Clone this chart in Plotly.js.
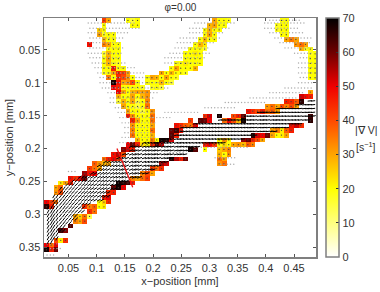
<!DOCTYPE html>
<html><head><meta charset="utf-8">
<script src="https://cdn.plot.ly/plotly-3.0.1.min.js"></script>
<style>html,body{margin:0;padding:0;background:#fff}</style></head>
<body><div id="chart" style="width:380px;height:292px"></div>
<script>
// |grad V| cells, as runs: [row, first column, values in s^-1 ...]
const heatRuns = [
[0,12,42,30],[0,17,20,16,20],[0,35,30,20,20,18],[0,49,20,20],
[1,12,20],[1,18,20,20],[1,34,28,30,20,20],[1,48,18,20,20],
[2,11,25,20],[2,33,20,28,20,20],[2,48,18,20,20],
[3,11,30,18,20,20],[3,33,20,30,20],[3,49,20,20],
[4,12,28,20,20],[4,32,20,28,20,20],[4,50,30,35,30],
[5,9,48],[5,12,34,30,20,20],[5,31,20,28,22],[5,52,32,36,30],
[6,13,20,20,20],[6,30,20,20,20,16],[6,53,28,18],[6,55,20],
[7,12,16,28,20,20],[7,29,20,20,22,20],[7,55,18,20],
[8,12,20,30,20,20],[8,29,20,20,20,20],[8,55,20,20],
[9,12,20,28,20,18],[9,27,20,20,22,20,20,20],[9,55,20,20],
[10,12,20,20,46,20,20],[10,26,20,30,20,20,20,28],[10,55,20,20],
[11,12,18,20,30,45,42,30],[11,24,30,20,28,20,20,18],[11,55,20,20],
[12,13,35,20,44,40,32,20],[12,21,20,30,28,20,30,20,18],[12,55,20,20],
[13,14,68,48,30,32,40,20],[13,21,20,20,20,28,20,16],
[14,14,50,45,20,20,20,20,18],[14,22,18,20,16],
[15,15,50,30,20,28,30,30,32],[15,55,30],
[16,15,28,20,20,30,20,28,32],[16,53,52,48,46],
[17,15,16,28,20,30,16,20,34],[17,50,46,44,38,66],
[18,16,30,20,20,16,20,36],[18,46,32,36,30,40,34,40,30],
[19,17,30,20,20,16,20,32],[19,42,48,44,40,46,36,38,30],
[20,17,47,32,20,20,20,36],[20,33,44,52],[20,36,68],[20,39,40,46,60],[20,55,64],
[21,18,46,30,20,20,36],[21,30,42],[21,32,62,60,50],[21,37,36,50,40,28,68],[21,55,66],
[22,18,32,20,20,20,30],[22,27,48,44,38,36,50],[22,51,48,52,44],
[23,18,34,20,20,20,36],[23,26,60,64,48],[23,47,30,34,22,38,46],
[24,18,36,20,20,20,28],[24,26,62,46],[24,43,66,52,50,60,30,20,22,30],
[25,19,28,20,20,34,20],[25,24,68,66,52],[25,36,20,32,20],[25,41,56,60,46,40,30],
[26,17,50,60,46,24,20,44,62,54],[26,33,46,50,42,20,24,20],[26,39,30,32,28,38,34],
[27,16,58,52,46],[27,30,68,62],[27,33,20],[27,36,26,30,34],
[28,14,48,54,40],[28,36,28,20,32],
[29,12,36,46,50,42],[29,26,66,54,46,60],[29,36,36,30],
[30,10,38,32,28,30],[30,24,56,52],[30,36,32,36],
[31,9,42,36,30],[31,22,42,36,44],
[32,8,56,48,50],[32,20,34,40,30],
[33,5,48,44,50,60],[33,18,34,30,36,42],
[34,3,22,30,46],[34,15,68,66,64,46],
[35,2,30,36],[35,14,60,68,50],
[36,2,32,40],[36,13,44,46],
[37,12,46,50],
[38,0,50,42,36],[38,11,20,26,44],
[39,0,66,46],[39,8,44,34,38,20,22],
[40,9,44,36],
[41,6,30,26,36,14],
[42,6,34,30,40],
[43,5,62],
[44,3,64,58],
[46,2,40,22,44],
[47,0,50,36,50],
[48,0,68,46,60]
];
// main channel: stations along x [mm], wall positions [mm], flow angle [deg]
const channelX = [0.014,0.024,0.036,0.047,0.058,0.070,0.081,0.092,0.104,0.115,0.127,0.138,0.148,0.161,0.171,0.184,0.195,0.205,0.218,0.228,0.241,0.251,0.262,0.274,0.285,0.297,0.308,0.319,0.331,0.342,0.354,0.365,0.375,0.388,0.398,0.411,0.421,0.432,0.444,0.455,0.468,0.478];
const channelTop = [0.285,0.271,0.259,0.253,0.248,0.242,0.238,0.232,0.224,0.220,0.215,0.209,0.203,0.197,0.194,0.191,0.189,0.186,0.185,0.182,0.176,0.168,0.164,0.162,0.161,0.161,0.159,0.156,0.156,0.153,0.153,0.150,0.148,0.145,0.142,0.141,0.138,0.136,0.135,0.133,0.129,0.124];
const channelBottom = [0.344,0.338,0.326,0.317,0.308,0.298,0.286,0.282,0.279,0.273,0.265,0.259,0.255,0.248,0.244,0.239,0.233,0.229,0.223,0.218,0.214,0.209,0.205,0.200,0.197,0.195,0.194,0.192,0.191,0.189,0.188,0.185,0.182,0.177,0.176,0.174,0.173,0.171,0.167,0.164,0.159,0.153];
const channelAngle = [62,58,52,46,42,38,35,32,30,28,26,25,24,22,20,18,17,16,15,14,13,12,11,10,10,9,9,8,8,8,8,8,7,7,7,7,7,6,6,6,6,6];
// slow-flow vectors around the branches: row y [mm], span start, span end [mm]
const slowY = [0.009,0.017,0.024,0.032,0.039,0.047,0.055,0.062,0.070,0.077,0.085,0.092,0.100,0.108,0.115,0.123,0.130,0.138,0.145,0.153,0.161,0.168,0.176,0.183,0.191,
 0.009,0.017,0.024,0.032,0.039,0.047,0.055,0.062,0.070,
 0.005,0.009,0.017,0.024,0.032,0.039,0.047,0.055,0.062,0.070,0.077,0.085,0.092,0.100,0.108,0.115,0.123,0.130,0.138,0.145,0.153,
 0.198,0.206,0.214,0.224,0.235,0.345,0.352,0.362];
const slowStart = [0.085,0.088,0.085,0.088,0.088,0.088,0.085,0.088,0.092,0.097,0.102,0.106,0.106,0.110,0.120,0.124,0.124,0.133,0.138,0.141,0.145,0.150,0.150,0.145,0.141,
 0.274,0.265,0.265,0.248,0.243,0.239,0.230,0.221,0.221,
 0.407,0.398,0.398,0.407,0.416,0.425,0.434,0.451,0.461,0.458,0.458,0.458,0.461,0.458,0.434,0.407,0.372,0.328,0.292,0.221,0.195,
 0.274,0.230,0.310,0.320,0.050,0.012,0.018,0.012];
const slowEnd = [0.168,0.177,0.159,0.150,0.141,0.150,0.144,0.141,0.150,0.168,0.186,0.195,0.239,0.230,0.212,0.204,0.195,0.195,0.204,0.199,0.204,0.199,0.199,0.204,0.168,
 0.345,0.336,0.328,0.319,0.310,0.301,0.301,0.292,0.283,
 0.461,0.469,0.461,0.469,0.482,0.482,0.482,0.482,0.482,0.482,0.482,0.482,0.482,0.482,0.482,0.469,0.455,0.398,0.345,0.283,0.230,
 0.372,0.256,0.345,0.345,0.062,0.030,0.036,0.026];
// section line drawn across the channel
const sectionX = [0.136,0.164];
const sectionY = [0.200,0.259];
const tickVals = [0.05,0.1,0.15,0.2,0.25,0.3,0.35,0.4,0.45];
const yTickVals = [0.05,0.1,0.15,0.2,0.25,0.3,0.35];
const barTicks = [0,10,20,30,40,50,60,70];

const X0 = 0.0108, DX = 0.00851, Y0 = 0.00515, DY = 0.00727, NC = 57, NR = 50;
const z = Array.from({length:NR},()=>new Array(NC).fill(null));
const cellDotX = [], cellDotY = [];
heatRuns.forEach(run => {
  const [r,c,...vals] = run;
  vals.forEach((v,i) => {
    if (c+i<NC) z[r][c+i] = v;
    cellDotX.push(X0+DX*(c+i)); cellDotY.push(Y0+DY*r);
  });
});
const arrowX=[],arrowY=[],arrowA=[];
const ROW = 0.0058;
channelX.forEach((x,i)=>{
  [0,0.0057].forEach(off=>{
    for(let k=Math.ceil(channelTop[i]/ROW); k*ROW<=channelBottom[i]; k++){
      arrowX.push(x+off); arrowY.push(k*ROW); arrowA.push(-channelAngle[i]);
    }
  });
});
const slowX=[],slowYs=[];
slowY.forEach((y,i)=>{
  for(let x=slowStart[i]; x<=slowEnd[i]; x+=0.0058){ slowX.push(x); slowYs.push(y); }
});
const hot = [[0,'#ffffff'],[10/70,'#ffff80'],[20/70,'#ffff00'],[30/70,'#ffa500'],[40/70,'#ff4a00'],[50/70,'#f00000'],[60/70,'#6e0000'],[1,'#000000']];
const ink='#333333', frame='#7f7f7f', F='"Liberation Sans", Arial, sans-serif';
const traces = [
 {type:'scatter',mode:'markers',x:slowX,y:slowYs,marker:{size:1.4,color:'#aaaaaa'},hoverinfo:'skip'},
 {type:'heatmap',z:z,x0:X0,dx:DX,y0:Y0,dy:DY,zmin:0,zmax:70,colorscale:hot,hoverongaps:false,
  colorbar:{x:1.037,xanchor:'left',xpad:0,y:0.5,yanchor:'middle',ypad:0,len:1,lenmode:'fraction',thickness:13,thicknessmode:'pixels',
    tickvals:barTicks,ticks:'inside',ticklen:3,tickcolor:'#333',tickwidth:1,
    outlinecolor:frame,outlinewidth:1.5,tickfont:{size:11,color:ink,family:F},ticklabelposition:'outside'}},
 {type:'scatter',mode:'markers',x:cellDotX,y:cellDotY,marker:{size:1.3,color:'#444444'},hoverinfo:'skip'},
 {type:'scatter',mode:'markers',x:arrowX,y:arrowY,marker:{symbol:'line-ew',size:3.1,angle:arrowA,color:'#000',line:{width:1,color:'#000'}},hoverinfo:'skip'},
 {type:'scatter',mode:'lines',x:sectionX,y:sectionY,line:{color:'#ee1111',width:1.3},hoverinfo:'skip'}
];
const axisCommon = {showgrid:false,zeroline:false,showline:true,linecolor:frame,linewidth:1.5,mirror:'ticks',ticks:'inside',ticklen:3,tickcolor:'#555',tickwidth:1,
  tickfont:{size:11,color:ink,family:F}};
const layout = {
 width:380,height:292,margin:{l:44,r:64,t:18,b:35,pad:0},paper_bgcolor:'#fff',plot_bgcolor:'#fff',showlegend:false,
 font:{family:F,color:ink},
 title:{text:'\u03c6=0.00',font:{size:10,color:ink,family:F},x:0.475,xanchor:'center',y:0.985,yanchor:'top'},
 xaxis:Object.assign({},axisCommon,{range:[0.0066,0.489],tickvals:tickVals,ticktext:tickVals.map(String),
   title:{text:'x\u2212position [mm]',font:{size:11,color:ink,family:F},standoff:4}}),
 yaxis:Object.assign({},axisCommon,{range:[0.365,0.0015],tickvals:yTickVals,ticktext:yTickVals.map(String),
   title:{text:'y\u2212position [mm]',font:{size:11,color:ink,family:F},standoff:3}}),
 annotations:[
  {text:'|\u2207 V|',xref:'paper',yref:'paper',x:1.185,y:0.53,xanchor:'center',yanchor:'middle',showarrow:false,font:{size:10.5,color:ink,family:F}},
  {text:'[s<sup>\u22121</sup>]',xref:'paper',yref:'paper',x:1.185,y:0.462,xanchor:'center',yanchor:'middle',showarrow:false,font:{size:10.5,color:ink,family:F}}
 ]
};
Plotly.newPlot('chart',traces,layout,{displayModeBar:false,staticPlot:true});
</script></body></html>
